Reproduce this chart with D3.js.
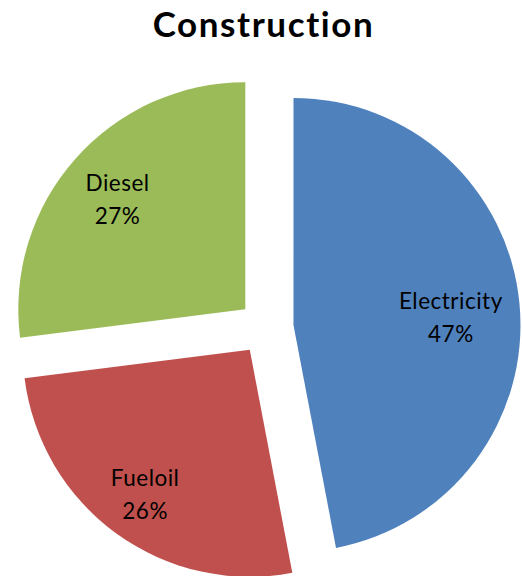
<!DOCTYPE html>
<html>
<head>
<meta charset="utf-8">
<script src="https://cdn.jsdelivr.net/npm/d3@7/dist/d3.min.js"></script>
<style>
  html, body { margin: 0; padding: 0; background: #fff; }
  svg { display: block; }
  text { font-family: Lato, "Open Sans", "Liberation Sans", sans-serif; fill: #000;
         font-variant-ligatures: none; font-feature-settings: "liga" 0, "clig" 0; }
</style>
</head>
<body>
<svg id="chart" width="522" height="576"></svg>
<script>
// Energy use shares for the construction sector
const title = "Construction";
const categories = ["Electricity", "Fueloil", "Diesel"];
const shares = [47, 26, 27];
const colors = ["#4F81BD", "#C0504D", "#9BBB59"];

// Layout
const W = 522, H = 576;
const center = { x: 266, y: 327.5 };
const radius = 227;
const explode = 27.6;
// label distance as a fraction of the radius, plus a small angular nudge (degrees)
const labelPlacement = [
  { r: 0.694, nudge: 3.1 },
  { r: 0.79, nudge: -0.3 },
  { r: 0.739, nudge: -1.0 }
];

const svg = d3.select("#chart");

svg.append("text")
  .attr("x", 263.5)
  .attr("y", 37)
  .attr("text-anchor", "middle")
  .style("font-size", "35px")
  .style("font-weight", "bold")
  .style("letter-spacing", "1.6px")
  .text(title);

const data = categories.map((c, i) => ({ name: c, value: shares[i], color: colors[i], idx: i }));
const total = d3.sum(shares);

const pie = d3.pie().sort(null).value(d => d.value).startAngle(0).endAngle(2 * Math.PI);
const arc = d3.arc().innerRadius(0).outerRadius(radius);
const arcs = pie(data);

const g = svg.append("g").attr("transform", `translate(${center.x},${center.y})`);

const slice = g.selectAll("g.slice")
  .data(arcs)
  .join("g")
  .attr("class", "slice")
  .attr("transform", d => {
    const mid = (d.startAngle + d.endAngle) / 2;
    return `translate(${Math.sin(mid) * explode},${-Math.cos(mid) * explode})`;
  });

slice.append("path")
  .attr("d", arc)
  .attr("fill", d => d.data.color);

slice.each(function(d) {
  const p = labelPlacement[d.data.idx];
  const a = (d.startAngle + d.endAngle) / 2 + p.nudge * Math.PI / 180;
  const lx = Math.sin(a) * radius * p.r;
  const ly = -Math.cos(a) * radius * p.r;
  const t = d3.select(this).append("text")
    .attr("text-anchor", "middle")
    .style("font-size", "22.5px")
    .style("letter-spacing", "0.5px");
  t.append("tspan").attr("x", lx).attr("y", ly - 9.2).text(d.data.name);
  t.append("tspan").attr("x", lx).attr("y", ly + 23.2)
    .text(Math.round(d.data.value / total * 100) + "%");
});
</script>
</body>
</html>
